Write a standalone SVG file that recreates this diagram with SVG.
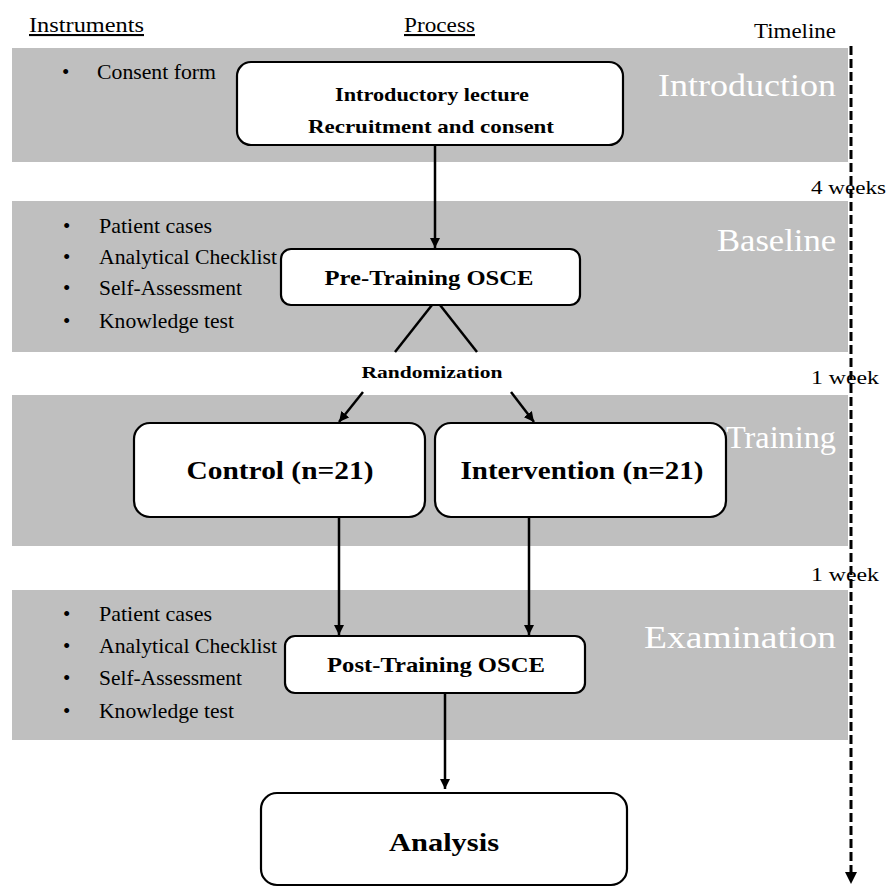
<svg xmlns="http://www.w3.org/2000/svg" width="886" height="888" viewBox="0 0 886 888">
  <style>
    .band { fill: #bfbfbf; }
    .hdr { font-family: "Liberation Serif", serif; font-size: 21px; fill: #000; }
    .item { font-family: "Liberation Serif", serif; font-size: 21px; fill: #000; }
    .phase { font-family: "Liberation Serif", serif; font-size: 31px; fill: #ffffff; text-anchor: end; }
    .time { font-family: "Liberation Serif", serif; font-size: 19px; fill: #000; }
    .box { fill: #ffffff; stroke: #000; stroke-width: 2.2; }
    .btxt { font-family: "Liberation Serif", serif; font-weight: bold; fill: #000; text-anchor: middle; }
    .conn { stroke: #000; stroke-width: 2.5; fill: none; }
  </style>
  <defs>
    <marker id="arr" viewBox="0 0 10 10" refX="10" refY="5" markerWidth="4" markerHeight="4" orient="auto" markerUnits="strokeWidth">
      <path d="M0,0 L10,5 L0,10 z" fill="#000"/>
    </marker>
  </defs>
  <rect width="886" height="888" fill="#ffffff"/>

  <!-- bands -->
  <g id="bands">
    <rect class="band" x="12" y="48" width="836" height="114"/>
    <rect class="band" x="12" y="201" width="836" height="151"/>
    <rect class="band" x="12" y="395" width="836" height="151"/>
    <rect class="band" x="12" y="590" width="836" height="150"/>
  </g>

  <!-- headers -->
  <g id="headers">
    <text class="hdr" x="29" y="32" textLength="115" lengthAdjust="spacingAndGlyphs" text-decoration="underline">Instruments</text>
    <text class="hdr" x="404" y="32" textLength="71" lengthAdjust="spacingAndGlyphs" text-decoration="underline">Process</text>
    <text class="hdr" x="754" y="38" textLength="82" lengthAdjust="spacingAndGlyphs">Timeline</text>
  </g>

  <!-- phase labels -->
  <g id="phases">
    <text class="phase" x="836" y="96" textLength="178" lengthAdjust="spacingAndGlyphs">Introduction</text>
    <text class="phase" x="836" y="251" textLength="119" lengthAdjust="spacingAndGlyphs">Baseline</text>
    <text class="phase" x="836" y="448" textLength="110" lengthAdjust="spacingAndGlyphs">Training</text>
    <text class="phase" x="836" y="648" textLength="192" lengthAdjust="spacingAndGlyphs">Examination</text>
  </g>

  <!-- time labels -->
  <g id="times">
    <text class="time" x="811" y="194" textLength="75" lengthAdjust="spacingAndGlyphs">4 weeks</text>
    <text class="time" x="811" y="384" textLength="68" lengthAdjust="spacingAndGlyphs">1 week</text>
    <text class="time" x="811" y="581" textLength="68" lengthAdjust="spacingAndGlyphs">1 week</text>
  </g>

  <!-- instruments -->
  <g id="instr-intro">
    <text class="item" x="62" y="79">•</text>
    <text class="item" x="97" y="79" textLength="119" lengthAdjust="spacingAndGlyphs">Consent form</text>
  </g>
  <g id="instr-baseline">
    <text class="item" x="63" y="233">•</text>
    <text class="item" x="99" y="233" textLength="113" lengthAdjust="spacingAndGlyphs">Patient cases</text>
    <text class="item" x="63" y="264">•</text>
    <text class="item" x="99" y="264" textLength="178" lengthAdjust="spacingAndGlyphs">Analytical Checklist</text>
    <text class="item" x="63" y="295">•</text>
    <text class="item" x="99" y="295" textLength="143" lengthAdjust="spacingAndGlyphs">Self-Assessment</text>
    <text class="item" x="63" y="328">•</text>
    <text class="item" x="99" y="328" textLength="135" lengthAdjust="spacingAndGlyphs">Knowledge test</text>
  </g>
  <g id="instr-exam">
    <text class="item" x="63" y="621">•</text>
    <text class="item" x="99" y="621" textLength="113" lengthAdjust="spacingAndGlyphs">Patient cases</text>
    <text class="item" x="63" y="653">•</text>
    <text class="item" x="99" y="653" textLength="178" lengthAdjust="spacingAndGlyphs">Analytical Checklist</text>
    <text class="item" x="63" y="685">•</text>
    <text class="item" x="99" y="685" textLength="143" lengthAdjust="spacingAndGlyphs">Self-Assessment</text>
    <text class="item" x="63" y="718">•</text>
    <text class="item" x="99" y="718" textLength="135" lengthAdjust="spacingAndGlyphs">Knowledge test</text>
  </g>

  <!-- connectors -->
  <g id="connectors">
    <line class="conn" x1="435" y1="145" x2="435" y2="248" marker-end="url(#arr)"/>
    <line class="conn" x1="432" y1="305" x2="395" y2="352"/>
    <line class="conn" x1="440" y1="305" x2="477" y2="352"/>
    <line class="conn" x1="363" y1="392" x2="339" y2="422" marker-end="url(#arr)"/>
    <line class="conn" x1="511" y1="392" x2="534" y2="422" marker-end="url(#arr)"/>
    <line class="conn" x1="339" y1="517" x2="339" y2="635" marker-end="url(#arr)"/>
    <line class="conn" x1="529" y1="517" x2="529" y2="635" marker-end="url(#arr)"/>
    <line class="conn" x1="445" y1="693" x2="445" y2="789" marker-end="url(#arr)"/>
    <line x1="851" y1="46" x2="851" y2="876" stroke="#000" stroke-width="3" stroke-dasharray="9,4"/>
    <path d="M845,872 L857,872 L851,884 z" fill="#000"/>
  </g>

  <!-- nodes -->
  <g id="node-intro">
    <rect class="box" x="237" y="62" width="386" height="83" rx="14"/>
    <text class="btxt" x="432" y="101" font-size="19" textLength="194" lengthAdjust="spacingAndGlyphs">Introductory lecture</text>
    <text class="btxt" x="431" y="133" font-size="19" textLength="246" lengthAdjust="spacingAndGlyphs">Recruitment and consent</text>
  </g>
  <g id="node-pre">
    <rect class="box" x="281" y="249" width="299" height="56" rx="10"/>
    <text class="btxt" x="429" y="285" font-size="22" textLength="209" lengthAdjust="spacingAndGlyphs">Pre-Training OSCE</text>
  </g>
  <g id="node-random">
    <text class="btxt" x="432" y="378" font-size="17" textLength="141" lengthAdjust="spacingAndGlyphs">Randomization</text>
  </g>
  <g id="node-control">
    <rect class="box" x="134" y="423" width="291" height="94" rx="16"/>
    <text class="btxt" x="280" y="479" font-size="25" textLength="187" lengthAdjust="spacingAndGlyphs">Control (n=21)</text>
  </g>
  <g id="node-intervention">
    <rect class="box" x="435" y="423" width="291" height="94" rx="16"/>
    <text class="btxt" x="582" y="479" font-size="25" textLength="243" lengthAdjust="spacingAndGlyphs">Intervention (n=21)</text>
  </g>
  <g id="node-post">
    <rect class="box" x="285" y="636" width="300" height="57" rx="10"/>
    <text class="btxt" x="436" y="672" font-size="22" textLength="218" lengthAdjust="spacingAndGlyphs">Post-Training OSCE</text>
  </g>
  <g id="node-analysis">
    <rect class="box" x="261" y="793" width="366" height="92" rx="16"/>
    <text class="btxt" x="444" y="851" font-size="25" textLength="110" lengthAdjust="spacingAndGlyphs">Analysis</text>
  </g>
</svg>
